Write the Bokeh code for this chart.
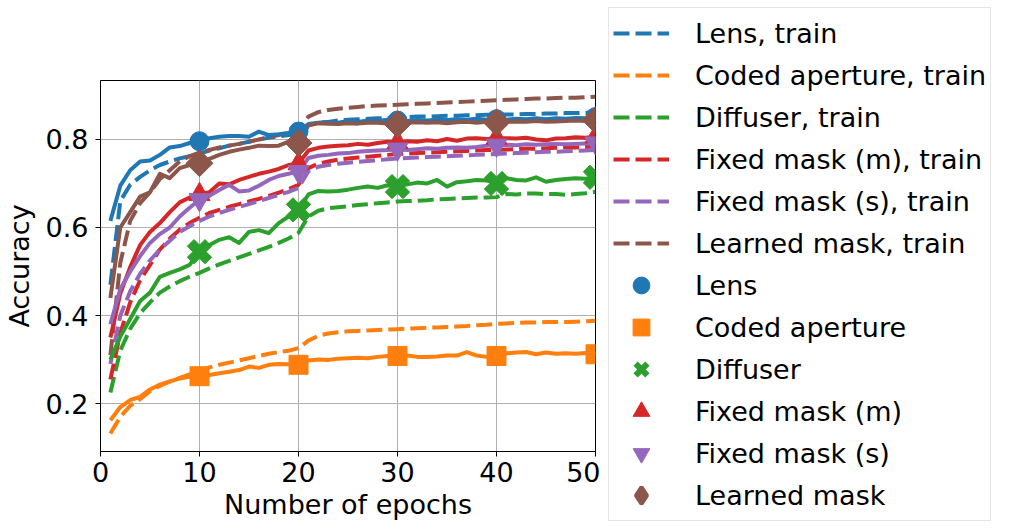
import numpy as np
from bokeh.plotting import figure
from bokeh.layouts import row
from bokeh.models import FixedTicker, Legend, LegendItem
from bokeh.embed import file_html
from bokeh.resources import INLINE

epochs = list(range(1, 51))

lens_test = [0.615, 0.695, 0.73, 0.75, 0.752, 0.765, 0.782, 0.785, 0.792, 0.796,
             0.803, 0.806, 0.808, 0.808, 0.806, 0.818, 0.81, 0.812, 0.815, 0.818,
             0.835, 0.838, 0.84, 0.838, 0.842, 0.84, 0.843, 0.842, 0.845, 0.843,
             0.842, 0.844, 0.843, 0.845, 0.844, 0.846, 0.845, 0.847, 0.845, 0.846,
             0.845, 0.847, 0.846, 0.848, 0.846, 0.848, 0.847, 0.849, 0.848, 0.851]
lens_train = [0.47, 0.66, 0.697, 0.715, 0.73, 0.742, 0.75, 0.757, 0.762, 0.768,
              0.775, 0.78, 0.786, 0.79, 0.795, 0.8, 0.804, 0.807, 0.81, 0.814,
              0.832, 0.838, 0.84, 0.843, 0.845, 0.846, 0.847, 0.848, 0.849, 0.85,
              0.851, 0.852, 0.852, 0.853, 0.854, 0.854, 0.855, 0.855, 0.856, 0.856,
              0.857, 0.857, 0.858, 0.858, 0.859, 0.859, 0.86, 0.86, 0.861, 0.861]
coded_test = [0.162, 0.192, 0.208, 0.215, 0.232, 0.243, 0.25, 0.257, 0.261, 0.262,
              0.265, 0.269, 0.272, 0.276, 0.284, 0.281, 0.288, 0.29, 0.289, 0.288,
              0.298, 0.3, 0.299, 0.302, 0.303, 0.304, 0.303, 0.306, 0.308, 0.308,
              0.309, 0.306, 0.306, 0.307, 0.309, 0.309, 0.317, 0.309, 0.306, 0.308,
              0.314, 0.316, 0.317, 0.312, 0.316, 0.313, 0.314, 0.313, 0.315, 0.312]
coded_train = [0.132, 0.17, 0.195, 0.21, 0.228, 0.24, 0.25, 0.258, 0.266, 0.274,
               0.282, 0.288, 0.293, 0.298, 0.303, 0.308, 0.313, 0.317, 0.32, 0.326,
               0.343, 0.354, 0.359, 0.362, 0.364, 0.365, 0.366, 0.367, 0.368, 0.369,
               0.37, 0.371, 0.372, 0.373, 0.374, 0.375, 0.376, 0.378, 0.379, 0.381,
               0.382, 0.383, 0.384, 0.384, 0.385, 0.385, 0.385, 0.386, 0.387, 0.388]
diffuser_test = [0.30, 0.352, 0.392, 0.433, 0.452, 0.488, 0.497, 0.505, 0.515, 0.545,
                 0.56, 0.572, 0.578, 0.565, 0.59, 0.594, 0.587, 0.61, 0.625, 0.64,
                 0.675, 0.683, 0.682, 0.683, 0.686, 0.69, 0.693, 0.69, 0.696, 0.693,
                 0.698, 0.702, 0.7, 0.708, 0.693, 0.703, 0.705, 0.708, 0.707, 0.70,
                 0.712, 0.708, 0.707, 0.714, 0.704, 0.708, 0.71, 0.712, 0.711, 0.714]
diffuser_train = [0.225, 0.32, 0.37, 0.405, 0.43, 0.452, 0.466, 0.478, 0.488, 0.497,
                  0.507, 0.516, 0.524, 0.532, 0.54, 0.548, 0.556, 0.565, 0.575, 0.588,
                  0.625, 0.638, 0.644, 0.646, 0.648, 0.651, 0.653, 0.655, 0.657, 0.659,
                  0.66, 0.661, 0.662, 0.664, 0.665, 0.666, 0.667, 0.668, 0.668, 0.669,
                  0.676, 0.675, 0.677, 0.677, 0.676, 0.676, 0.674, 0.676, 0.678, 0.681]
fixed_m_test = [0.35, 0.45, 0.51, 0.56, 0.59, 0.61, 0.635, 0.657, 0.668, 0.675,
                0.68, 0.70, 0.698, 0.708, 0.715, 0.722, 0.727, 0.733, 0.742, 0.745,
                0.775, 0.781, 0.784, 0.786, 0.787, 0.79, 0.788, 0.792, 0.795, 0.793,
                0.796, 0.795, 0.798, 0.796, 0.801, 0.797, 0.802, 0.803, 0.801, 0.803,
                0.803, 0.802, 0.804, 0.8, 0.798, 0.802, 0.803, 0.805, 0.804, 0.806]
fixed_m_train = [0.255, 0.36, 0.43, 0.48, 0.515, 0.55, 0.575, 0.595, 0.61, 0.622,
                 0.633, 0.64, 0.647, 0.653, 0.659, 0.665, 0.672, 0.679, 0.687, 0.697,
                 0.735, 0.745, 0.75, 0.754, 0.757, 0.759, 0.761, 0.763, 0.765, 0.767,
                 0.768, 0.769, 0.77, 0.771, 0.772, 0.773, 0.774, 0.775, 0.776, 0.776,
                 0.777, 0.778, 0.779, 0.779, 0.78, 0.781, 0.782, 0.782, 0.783, 0.784]
fixed_s_test = [0.38, 0.46, 0.5, 0.535, 0.565, 0.585, 0.60, 0.625, 0.645, 0.663,
                0.672, 0.685, 0.697, 0.682, 0.684, 0.695, 0.708, 0.717, 0.722, 0.727,
                0.758, 0.763, 0.765, 0.768, 0.769, 0.772, 0.774, 0.775, 0.776, 0.778,
                0.776, 0.778, 0.78, 0.779, 0.781, 0.782, 0.781, 0.783, 0.786, 0.787,
                0.788, 0.787, 0.789, 0.788, 0.789, 0.79, 0.789, 0.79, 0.791, 0.792]
fixed_s_train = [0.29, 0.40, 0.455, 0.495, 0.525, 0.55, 0.57, 0.59, 0.603, 0.615,
                 0.625, 0.633, 0.64, 0.647, 0.653, 0.66, 0.667, 0.674, 0.681, 0.69,
                 0.728, 0.738, 0.742, 0.745, 0.747, 0.749, 0.751, 0.753, 0.755, 0.757,
                 0.758, 0.759, 0.76, 0.761, 0.762, 0.763, 0.764, 0.765, 0.766, 0.767,
                 0.768, 0.769, 0.77, 0.771, 0.772, 0.772, 0.773, 0.774, 0.775, 0.776]
learned_test = [0.44, 0.60, 0.635, 0.67, 0.68, 0.722, 0.712, 0.735, 0.742, 0.746,
                0.756, 0.765, 0.772, 0.777, 0.781, 0.786, 0.785, 0.786, 0.795, 0.792,
                0.832, 0.837, 0.836, 0.835, 0.837, 0.836, 0.838, 0.838, 0.836, 0.835,
                0.838, 0.839, 0.838, 0.839, 0.837, 0.839, 0.84, 0.838, 0.84, 0.839,
                0.84, 0.841, 0.84, 0.842, 0.84, 0.841, 0.842, 0.843, 0.842, 0.844]
learned_train = [0.31, 0.52, 0.615, 0.655, 0.68, 0.71, 0.73, 0.75, 0.762, 0.77,
                 0.776, 0.782, 0.786, 0.79, 0.795, 0.8, 0.805, 0.81, 0.815, 0.82,
                 0.852, 0.862, 0.867, 0.87, 0.872, 0.874, 0.876, 0.877, 0.878, 0.879,
                 0.88, 0.881, 0.882, 0.883, 0.884, 0.885, 0.886, 0.887, 0.888, 0.889,
                 0.89, 0.891, 0.892, 0.893, 0.893, 0.894, 0.895, 0.895, 0.896, 0.897]

names = ["Lens", "Coded aperture", "Diffuser", "Fixed mask (m)", "Fixed mask (s)", "Learned mask"]
train_series = [lens_train, coded_train, diffuser_train, fixed_m_train, fixed_s_train, learned_train]
test_series = [lens_test, coded_test, diffuser_test, fixed_m_test, fixed_s_test, learned_test]
colors = ["#1f77b4", "#ff7f0e", "#2ca02c", "#d62728", "#9467bd", "#8c564b"]
markers = ["circle", "square", "plus", "triangle", "inverted_triangle", "square"]
angles = [0, 0, np.pi / 4, 0, 0, np.pi / 4]
sizes = [19, 19, 25, 21, 21, 19]
legend_markers = ["circle", "square", "x", "triangle", "inverted_triangle", "diamond"]
legend_line_widths = [1, 1, 6, 1, 1, 4]
mark_idx = [9, 19, 29, 39, 49]

FONT = "DejaVu Sans"
FS = "27px"

# ---------------- main plot ----------------
p = figure(width=600, height=531, x_range=(0, 50), y_range=(0.091, 0.934),
           output_backend="svg", toolbar_location=None,
           min_border_left=98, min_border_right=5, min_border_top=80, min_border_bottom=80)
p.frame_align = False

p.xaxis.ticker = FixedTicker(ticks=[0, 10, 20, 30, 40, 50])
p.yaxis.ticker = FixedTicker(ticks=[0.2, 0.4, 0.6, 0.8])
p.xgrid.ticker = FixedTicker(ticks=[0, 10, 20, 30, 40, 50])
p.ygrid.ticker = FixedTicker(ticks=[0.2, 0.4, 0.6, 0.8])
for g in (p.xgrid, p.ygrid):
    g.grid_line_color = "#b0b0b0"
    g.grid_line_width = 1
for ax in (p.xaxis, p.yaxis):
    ax.major_label_text_font = FONT
    ax.major_label_text_font_size = FS
    ax.major_label_text_color = "black"
    ax.axis_label_text_font = FONT
    ax.axis_label_text_font_size = FS
    ax.axis_label_text_font_style = "normal"
    ax.axis_label_text_color = "black"
    ax.major_tick_out = 5
    ax.major_tick_in = 0
    ax.minor_tick_out = 0
    ax.minor_tick_in = 0
    ax.axis_line_color = "black"
    ax.major_tick_line_color = "black"
p.xaxis.axis_label = "Number of epochs"
p.xaxis.major_label_standoff = 5
p.xaxis.axis_label_standoff = 4
p.yaxis.axis_label = "Accuracy"
p.yaxis.major_label_standoff = 7
p.yaxis.axis_label_standoff = 8
p.outline_line_color = "black"
p.outline_line_alpha = 1
p.outline_line_width = 1

for tr, c in zip(train_series, colors):
    p.line(epochs, tr, line_color=c, line_width=4, line_dash="16 6")
for te, c in zip(test_series, colors):
    p.line(epochs, te, line_color=c, line_width=4, line_join="round")
for te, c, mk, ang, sz in zip(test_series, colors, markers, angles, sizes):
    p.scatter([epochs[i] for i in mark_idx], [te[i] for i in mark_idx], marker=mk,
              angle=ang, size=sz, fill_color=c, line_color=c)

# ---------------- legend panel ----------------
lg = figure(width=416, height=531, x_range=(-20, -19), y_range=(0, 1),
            output_backend="svg", toolbar_location=None,
            x_axis_location=None, y_axis_location=None,
            min_border=0)
lg.frame_align = False
lg.title.visible = False
lg.xgrid.visible = False
lg.ygrid.visible = False
lg.outline_line_color = None

items = []
for name, tr, c in zip(names, train_series, colors):
    r = lg.line(epochs, tr, line_color=c, line_width=4, line_dash="16 6")
    items.append(LegendItem(label=f"{name}, train", renderers=[r]))
for name, te, c, lmk, llw, sz in zip(names, test_series, colors, legend_markers,
                                     legend_line_widths, sizes):
    s = lg.scatter([epochs[i] for i in mark_idx], [te[i] for i in mark_idx], marker=lmk,
                   size=sz, fill_color=c, line_color=c, line_width=llw)
    items.append(LegendItem(label=name, renderers=[s]))

legend = Legend(items=items, location=(8, 10),
                label_text_font=FONT, label_text_font_size=FS, label_text_color="black",
                glyph_width=56, glyph_height=42, label_height=42, spacing=0,
                padding=4, margin=0, label_standoff=26,
                border_line_color="#cccccc", border_line_width=1,
                background_fill_color="white", background_fill_alpha=1)
lg.add_layout(legend)

layout = row(p, lg, spacing=0)
open("out.html", "w").write(file_html(layout, INLINE))
